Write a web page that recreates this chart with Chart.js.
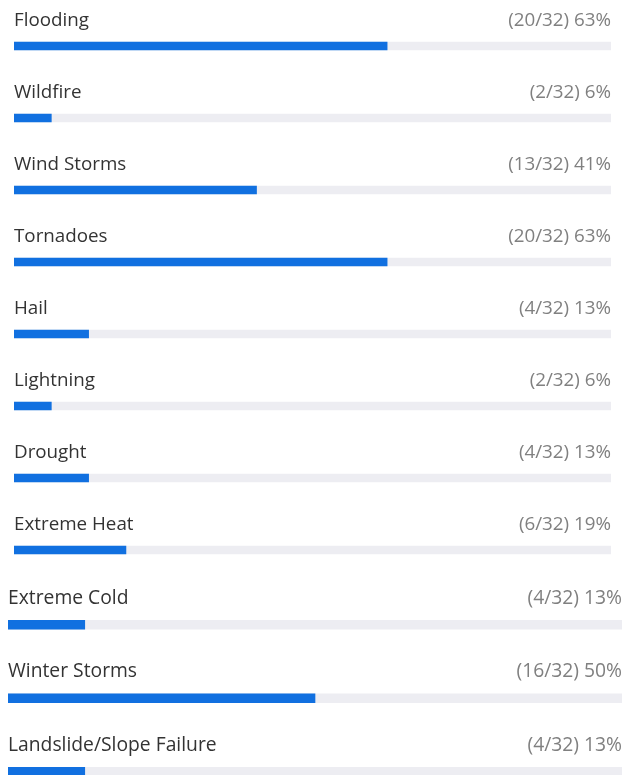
<!DOCTYPE html>
<html>
<head>
<meta charset="utf-8">
<script src="https://cdn.jsdelivr.net/npm/chart.js@4.4.1/dist/chart.umd.min.js"></script>
<style>
  html, body { margin: 0; padding: 0; background: #fff; overflow: hidden; }
  canvas { position: absolute; left: 0; }
</style>
</head>
<body>
<canvas id="topChart" width="623" height="600" style="top:0px"></canvas>
<canvas id="bottomChart" width="623" height="240" style="top:588px"></canvas>
<script>
// Survey answers, out of 32 responses
const total = 32;
const topCategories = ['Flooding', 'Wildfire', 'Wind Storms', 'Tornadoes', 'Hail', 'Lightning', 'Drought', 'Extreme Heat'];
const topCounts = [20, 2, 13, 20, 4, 2, 4, 6];
const bottomCategories = ['Extreme Cold', 'Winter Storms', 'Landslide/Slope Failure'];
const bottomCounts = [4, 16, 4];

// Draws the category name above each bar and "(n/32) p%" at the right
const rowLabels = {
    id: 'rowLabels',
    afterDatasetsDraw(chart, args, opts) {
        const ctx = chart.ctx;
        const area = chart.chartArea;
        const meta = chart.getDatasetMeta(0);
        ctx.save();
        ctx.font = opts.size + 'px "Open Sans", sans-serif';
        ctx.textBaseline = 'middle';
        meta.data.forEach((bar, i) => {
            const count = chart.data.datasets[0].data[i];
            const y = bar.y - opts.gap;
            ctx.fillStyle = '#333333';
            ctx.textAlign = 'left';
            ctx.fillText(chart.data.labels[i], area.left, y);
            ctx.fillStyle = '#808080';
            ctx.textAlign = 'right';
            ctx.fillText('(' + count + '/' + total + ') ' + Math.round(count / total * 100) + '%', area.right, y);
        });
        ctx.restore();
    }
};

function makeChart(id, labels, counts, pad, thickness, fontSize, gap) {
    return new Chart(document.getElementById(id).getContext('2d'), {
        type: 'bar',
        data: {
            labels: labels,
            datasets: [{
                data: counts,
                backgroundColor: '#1170e0',
                barThickness: thickness,
                order: 0
            }, {
                data: labels.map(() => total),
                backgroundColor: '#ededf2',
                barThickness: thickness,
                order: 1
            }]
        },
        options: {
            indexAxis: 'y',
            responsive: false,
            animation: false,
            layout: { padding: pad },
            scales: {
                x: { display: false, min: 0, max: total },
                y: { display: false, stacked: false }
            },
            datasets: { bar: { grouped: false } },
            plugins: {
                legend: { display: false },
                tooltip: { enabled: false },
                rowLabels: { size: fontSize, gap: gap }
            }
        },
        plugins: [rowLabels]
    });
}

makeChart('topChart', topCategories, topCounts, { left: 14, right: 12, top: 10, bottom: 14 }, 8, 18.8, 25.5);
makeChart('bottomChart', bottomCategories, bottomCounts, { left: 8, right: 1, top: 0, bottom: 19.5 }, 9, 19.3, 26.5);
</script>
</body>
</html>
